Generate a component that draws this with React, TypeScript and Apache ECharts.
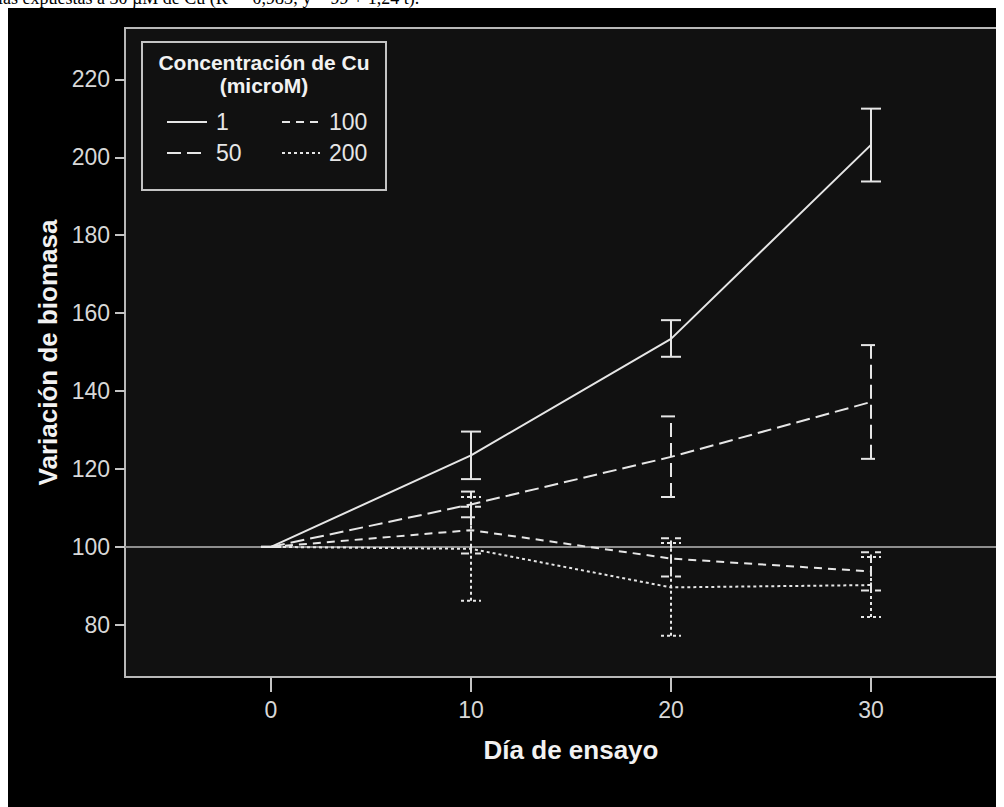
import React, { useEffect, useRef } from "react";
import * as echarts from "echarts";

const days = [0, 10, 20, 30];
const seriesNames = ["1", "50", "100", "200"];

const mean1 = [100, 123.5, 153.4, 203.2];
const low1 = [100, 117.4, 148.8, 193.8];
const high1 = [100, 129.6, 158.2, 212.5];

const mean50 = [100, 110.9, 123.1, 137.2];
const low50 = [100, 107.6, 112.8, 122.6];
const high50 = [100, 114.2, 133.5, 151.8];

const mean100 = [100, 104.3, 97.0, 93.7];
const low100 = [100, 98.3, 92.4, 88.8];
const high100 = [100, 110.3, 102.2, 98.6];

const mean200 = [100, 99.5, 89.6, 90.2];
const low200 = [100, 86.2, 77.2, 82.0];
const high200 = [100, 112.8, 101.0, 97.4];

const xTicks = [0, 10, 20, 30];
const yTicks = [80, 100, 120, 140, 160, 180, 200, 220];
const referenceValue = 100;

const legendTitle = ["Concentración de Cu", "(microM)"];
const xTitle = "Día de ensayo";
const yTitle = "Variación de biomasa";
const captionText = "las expuestas a 30 µM de Cu (R² = 0,983; y = 99 + 1,24 t).";

const means = [mean1, mean50, mean100, mean200];
const lows = [low1, low50, low100, low200];
const highs = [high1, high50, high100, high200];
const dashes: (number[] | null)[] = [null, [14, 6], [8, 6], [3, 3]];

const LINE_COLOR = "#e6e6e6";
const FONT = "'Liberation Sans', Arial, sans-serif";

export default function App() {
  const ref = useRef<HTMLDivElement>(null);
  useEffect(() => {
    document.body.style.overflow = "hidden";
    const chart = echarts.init(ref.current!, null, { renderer: "svg" });

    const lineSeries: any[] = seriesNames.map((name, k) => ({
      name,
      type: "line",
      data: days.map((d, i) => [d, means[k][i]]),
      symbol: "none",
      z: 3,
      lineStyle: {
        color: LINE_COLOR,
        width: 2,
        type: dashes[k] ? dashes[k] : "solid",
      },
      ...(k === 0
        ? {
            markLine: {
              silent: true,
              symbol: ["none", "none"],
              label: { show: false },
              lineStyle: { color: "#8e8e8e", width: 2, type: "solid" },
              data: [{ yAxis: referenceValue }],
              z: 1,
            },
          }
        : {}),
    }));

    const errSeries: any[] = seriesNames.map((name, k) => ({
      name: name + " error",
      type: "custom",
      z: 4,
      encode: { x: 0, y: [1, 2] },
      data: days.map((d, i) => [d, lows[k][i], highs[k][i]]),
      renderItem: (params: any, api: any) => {
        const x = api.value(0);
        const pLo = api.coord([x, api.value(1)]);
        const pHi = api.coord([x, api.value(2)]);
        const hw = 10;
        const style: any = { stroke: LINE_COLOR, lineWidth: 2, fill: null };
        if (dashes[k]) style.lineDash = dashes[k];
        return {
          type: "group",
          children: [
            { type: "line", shape: { x1: pLo[0], y1: pLo[1], x2: pHi[0], y2: pHi[1] }, style },
            { type: "line", shape: { x1: pLo[0] - hw, y1: pLo[1], x2: pLo[0] + hw, y2: pLo[1] }, style },
            { type: "line", shape: { x1: pHi[0] - hw, y1: pHi[1], x2: pHi[0] + hw, y2: pHi[1] }, style },
          ],
        };
      },
    }));

    // legend drawn as graphic
    const legendPos = [
      { x1: 159, x2: 199, lx: 208, y: 114 },
      { x1: 159, x2: 199, lx: 208, y: 145 },
      { x1: 274, x2: 312, lx: 321, y: 114 },
      { x1: 274, x2: 312, lx: 321, y: 145 },
    ];
    const legendEls: any[] = [
      {
        type: "rect",
        shape: { x: 134, y: 34, width: 244, height: 148 },
        style: { fill: "#111111", stroke: "#c4c4c4", lineWidth: 2 },
        z: 10,
      },
      {
        type: "text",
        z: 11,
        style: {
          text: legendTitle[0],
          x: 256,
          y: 54,
          fill: "#f2f2f2",
          fontSize: 21,
          fontWeight: "bold",
          fontFamily: FONT,
          textAlign: "center",
          textVerticalAlign: "middle",
        },
      },
      {
        type: "text",
        z: 11,
        style: {
          text: legendTitle[1],
          x: 256,
          y: 77,
          fill: "#f2f2f2",
          fontSize: 21,
          fontWeight: "bold",
          fontFamily: FONT,
          textAlign: "center",
          textVerticalAlign: "middle",
        },
      },
    ];
    seriesNames.forEach((name, k) => {
      const p = legendPos[k];
      const st: any = { stroke: LINE_COLOR, lineWidth: 2 };
      if (dashes[k]) st.lineDash = dashes[k];
      legendEls.push({
        type: "line",
        z: 11,
        shape: { x1: p.x1, y1: p.y, x2: p.x2, y2: p.y },
        style: st,
      });
      legendEls.push({
        type: "text",
        z: 11,
        style: {
          text: name,
          x: p.lx,
          y: p.y,
          fill: "#e6e6e6",
          fontSize: 23,
          fontFamily: FONT,
          textAlign: "left",
          textVerticalAlign: "middle",
        },
      });
    });

    chart.setOption({
      animation: false,
      backgroundColor: "#000000",
      textStyle: { fontFamily: FONT },
      grid: {
        left: 117,
        top: 20,
        width: 892,
        height: 649,
        show: true,
        backgroundColor: "#111111",
        borderColor: "#b8b8b8",
        borderWidth: 2,
      },
      xAxis: {
        type: "value",
        min: -7.3,
        max: 37.3,
        name: xTitle,
        nameLocation: "middle",
        nameGap: 60,
        nameTextStyle: { fontSize: 26, fontWeight: "bold", color: "#f2f2f2", fontFamily: FONT },
        axisLine: { show: false, onZero: false },
        splitLine: { show: false },
        axisTick: {
          show: true,
          length: 15,
          customValues: xTicks,
          lineStyle: { color: "#c4c4c4", width: 2 },
        },
        axisLabel: {
          customValues: xTicks,
          color: "#d8d8d8",
          fontSize: 23,
          margin: 21,
          fontFamily: FONT,
        },
      },
      yAxis: {
        type: "value",
        min: 66.6,
        max: 233.2,
        name: yTitle,
        nameLocation: "middle",
        nameGap: 63,
        nameTextStyle: { fontSize: 26, fontWeight: "bold", color: "#f2f2f2", fontFamily: FONT },
        axisLine: { show: false, onZero: false },
        splitLine: { show: false },
        axisTick: {
          show: true,
          length: 10,
          customValues: yTicks,
          lineStyle: { color: "#c4c4c4", width: 2 },
        },
        axisLabel: {
          customValues: yTicks,
          color: "#d8d8d8",
          fontSize: 23,
          margin: 15,
          fontFamily: FONT,
        },
      },
      graphic: legendEls,
      series: [...lineSeries, ...errSeries],
    });
    return () => {
      chart.dispose();
    };
  }, []);

  return (
    <>
      <div
        style={{
          position: "absolute",
          top: -12,
          left: -2,
          fontFamily: "'Liberation Serif', 'Times New Roman', serif",
          fontSize: 18,
          lineHeight: "20px",
          whiteSpace: "nowrap",
          color: "#000",
        }}
      >
        {captionText}
      </div>
      <div ref={ref} style={{ width: 1030, height: 799 }} />
    </>
  );
}
